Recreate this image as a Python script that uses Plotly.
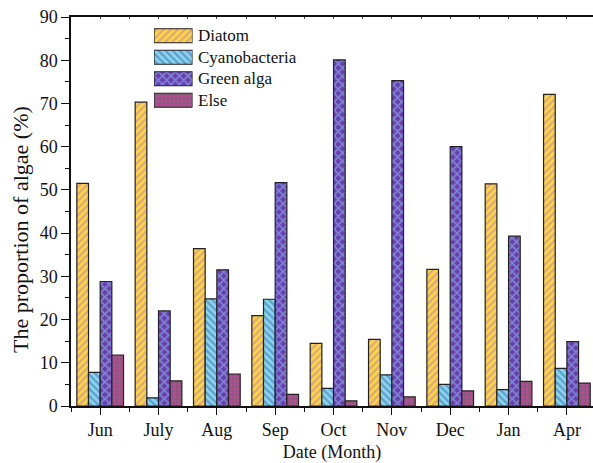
import plotly.graph_objects as go

# Monthly share of each algal group (%)
months = ["Jun", "July", "Aug", "Sep", "Oct", "Nov", "Dec", "Jan", "Apr"]
diatom = [51.5, 70.3, 36.4, 20.9, 14.5, 15.4, 31.6, 51.4, 72.1]
cyanobacteria = [7.8, 1.9, 24.8, 24.7, 4.1, 7.2, 5.0, 3.8, 8.7]
green_alga = [28.8, 22.0, 31.5, 51.7, 80.1, 75.3, 60.0, 39.3, 14.9]
else_group = [11.8, 5.8, 7.4, 2.7, 1.2, 2.1, 3.5, 5.7, 5.3]

series_names = ["Diatom", "Cyanobacteria", "Green alga", "Else"]
series_values = [diatom, cyanobacteria, green_alga, else_group]

# fill style per group: (background, pattern colour, pattern shape, pattern size)
styles = [
    ("#f6de3a", "#d56cc4", "/", 5),
    ("#8ed8ee", "#2e6cb3", "\\", 5),
    ("#6a3cb4", "#8dd0e8", "x", 6),
    ("#c5439d", "#1f8a3e", "+", 4),
]

FONT = "Liberation Serif"
W, H = 593, 463
ML, MR, MT, MB = 71, 0, 17, 57

plot_w = W - ML - MR
plot_h = H - MT - MB
x_lo = -0.5
x_hi = x_lo + plot_w / 58.34


def px_x(px):
    return (px - ML) / plot_w


def px_y(py):
    return (H - MB - py) / plot_h


def bar_marker(bg, fg, shape, size):
    return dict(
        color=bg,
        line=dict(color="#222222", width=1.2),
        pattern=dict(shape=shape, bgcolor=bg, fgcolor=fg, size=size,
                     solidity=0.5, fillmode="overlay"),
    )


fig = go.Figure()
x_idx = list(range(len(months)))

for name, vals, st in zip(series_names, series_values, styles):
    fig.add_trace(go.Bar(x=x_idx, y=vals, name=name, showlegend=False,
                         marker=bar_marker(*st)))

# legend swatches drawn as small horizontal bars in an inset axis
for i, (name, st) in enumerate(zip(series_names, styles)):
    fig.add_trace(go.Bar(
        x=[1], y=[i], orientation="h", width=0.65, showlegend=False,
        xaxis="x2", yaxis="y2", hoverinfo="skip", marker=bar_marker(*st),
    ))
    fig.add_annotation(
        x=1, y=i, xref="x2", yref="y2", text=name, showarrow=False,
        xanchor="left", yanchor="middle", xshift=3,
        font=dict(family=FONT, size=17, color="#111111"),
    )

# y-axis title placed as a rotated annotation
fig.add_annotation(
    x=px_x(20), y=px_y(230), xref="paper", yref="paper",
    text="The proportion of algae (%)", textangle=-90, showarrow=False,
    xanchor="center", yanchor="middle",
    font=dict(family=FONT, size=22, color="#111111"),
)

fig.update_layout(
    width=W, height=H,
    margin=dict(l=ML, r=MR, t=MT, b=MB),
    paper_bgcolor="white", plot_bgcolor="white",
    barmode="group", bargap=0.2, bargroupgap=0,
    font=dict(family=FONT, size=18, color="#111111"),
    xaxis=dict(
        range=[x_lo, x_hi],
        tickmode="array", tickvals=x_idx, ticktext=months,
        showline=True, linecolor="#111111", linewidth=1.5,
        ticks="outside", ticklen=7, tickwidth=1.3, tickcolor="#111111",
        minor=dict(tickvals=[i + 0.5 for i in range(-1, len(months))],
                   ticks="outside", ticklen=4, tickwidth=1.2, tickcolor="#111111"),
        showgrid=False, zeroline=False,
        tickfont=dict(family=FONT, size=18),
        title=dict(text="Date (Month)", font=dict(family=FONT, size=18), standoff=6),
    ),
    yaxis=dict(
        range=[0, 90], dtick=10, tick0=0,
        showline=True, linecolor="#111111", linewidth=1.5,
        ticks="outside", ticklen=8, tickwidth=1.3, tickcolor="#111111",
        minor=dict(dtick=5, tick0=5, ticks="outside", ticklen=4,
                   tickwidth=1.2, tickcolor="#111111"),
        showgrid=False, zeroline=False,
        tickfont=dict(family=FONT, size=18),
    ),
    # top frame line with small inward ticks
    xaxis3=dict(
        overlaying="x", side="top", range=[x_lo, x_hi],
        tickmode="array", tickvals=[i * 0.5 for i in range(-1, 2 * len(months) + 1)],
        showticklabels=False, ticks="inside", ticklen=2, tickwidth=1,
        tickcolor="#444444", showline=True, linecolor="#111111", linewidth=1.5,
        showgrid=False, zeroline=False,
    ),
    xaxis2=dict(
        domain=[px_x(154), px_x(192.5)], range=[0, 1], anchor="y2",
        visible=False, fixedrange=True,
    ),
    yaxis2=dict(
        domain=[px_y(111.0), px_y(25.0)], range=[3.5, -0.5], anchor="x2",
        visible=False, fixedrange=True,
    ),
)

# attach a hidden trace so the top axis is drawn
fig.add_trace(go.Scatter(x=[0], y=[0], xaxis="x3", yaxis="y", mode="markers",
                         marker=dict(opacity=0), showlegend=False, hoverinfo="skip"))

fig.write_html("out.html")
